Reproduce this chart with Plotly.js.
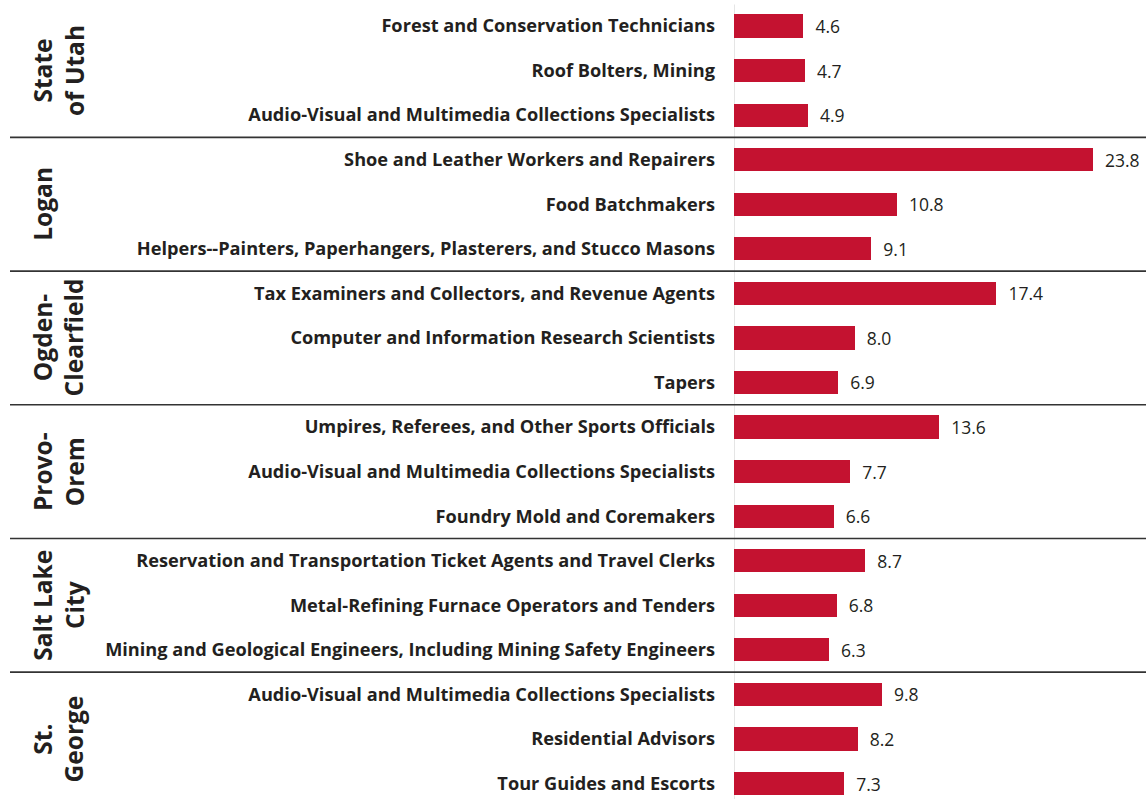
<!DOCTYPE html>
<html>
<head>
<meta charset="utf-8">
<script src="https://cdn.plot.ly/plotly-3.0.1.min.js"></script>
<style>html,body{margin:0;padding:0;background:#fff;}#chart{width:1146px;height:799px;}</style>
</head>
<body>
<div id="chart"></div>
<script>
const regions = ["State<br>of Utah", "Logan", "Ogden-<br>Clearfield", "Provo-<br>Orem", "Salt Lake<br>City", "St.<br>George"];
const occupations = [
  "Forest and Conservation Technicians",
  "Roof Bolters, Mining",
  "Audio-Visual and Multimedia Collections Specialists",
  "Shoe and Leather Workers and Repairers",
  "Food Batchmakers",
  "Helpers--Painters, Paperhangers, Plasterers, and Stucco Masons",
  "Tax Examiners and Collectors, and Revenue Agents",
  "Computer and Information Research Scientists",
  "Tapers",
  "Umpires, Referees, and Other Sports Officials",
  "Audio-Visual and Multimedia Collections Specialists",
  "Foundry Mold and Coremakers",
  "Reservation and Transportation Ticket Agents and Travel Clerks",
  "Metal-Refining Furnace Operators and Tenders",
  "Mining and Geological Engineers, Including Mining Safety Engineers",
  "Audio-Visual and Multimedia Collections Specialists",
  "Residential Advisors",
  "Tour Guides and Escorts"
];
const values = [4.6, 4.7, 4.9, 23.8, 10.8, 9.1, 17.4, 8.0, 6.9, 13.6, 7.7, 6.6, 8.7, 6.8, 6.3, 9.8, 8.2, 7.3];
const perRegion = 3;

const idx = values.map((v, i) => i);
const PW = 412, L = 734;
const px = p => (p - L) / PW;

const trace = {
  type: 'bar',
  orientation: 'h',
  x: values,
  y: idx,
  width: 0.52,
  marker: {color: '#c41230'},
  text: values.map(v => v.toFixed(1)),
  texttemplate: '  %{text}',
  textposition: 'outside',
  constraintext: 'none',
  cliponaxis: false,
  textfont: {family: 'Open Sans, sans-serif', size: 17.5, color: '#231f20'},
  hoverinfo: 'skip'
};

const shapes = [];
for (let g = 1; g < regions.length; g++) {
  const yy = g * perRegion - 0.5;
  shapes.push({type: 'line', xref: 'paper', yref: 'y', x0: px(10), x1: 1, y0: yy, y1: yy,
    line: {color: '#333333', width: 1.6}});
}
shapes.push({type: 'line', xref: 'x', yref: 'y', x0: 0, x1: 0, y0: -0.48, y1: 17.4, layer: 'below',
  line: {color: '#dcdcdc', width: 1.5}});

const annotations = regions.map((r, g) => ({
  xref: 'paper', yref: 'y', x: px(24), y: g * perRegion + 1,
  xanchor: 'left', yanchor: 'middle', textangle: -90, showarrow: false,
  text: '<b>' + r + '</b>', align: 'center',
  font: {family: 'Open Sans, sans-serif', size: 24.5, color: '#231f20'}
}));

const layout = {
  width: 1146, height: 799,
  margin: {l: L, r: 0, t: 0, b: 0},
  paper_bgcolor: '#ffffff', plot_bgcolor: '#ffffff',
  showlegend: false,
  bargap: 0,
  xaxis: {range: [0, PW / 15.08], showgrid: false, zeroline: false, showline: false, showticklabels: false, ticks: ''},
  yaxis: {range: [17.347, -0.5835], tickmode: 'array', tickvals: idx,
    ticktext: occupations.map(o => '<b>' + o + '</b>'),
    showgrid: false, zeroline: false, showline: false, ticks: '', ticklabelstandoff: 18,
    tickfont: {family: 'Open Sans, sans-serif', size: 18.2, color: '#231f20'}},
  shapes: shapes,
  annotations: annotations
};

Plotly.newPlot('chart', [trace], layout, {displayModeBar: false, staticPlot: true});
</script>
</body>
</html>
